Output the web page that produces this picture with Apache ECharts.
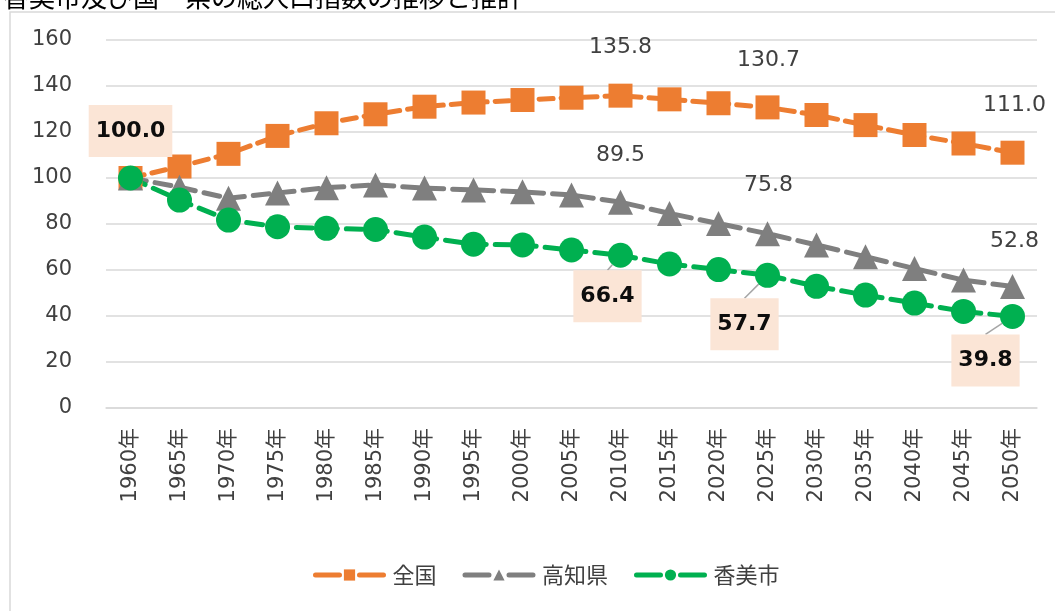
<!DOCTYPE html>
<html style="height: 100%">
<head>
    <meta charset="utf-8">
    <script src="https://cdn.jsdelivr.net/npm/echarts@6/dist/echarts.min.js"></script>
</head>
<body style="height: 100%; width: 100%; margin: 0; background-color: #fff;">
    <div id="container" style="width: 1055px; height: 611px;"></div>
    <script type="text/javascript">
        // データ
        var years = ['1960年', '1965年', '1970年', '1975年', '1980年', '1985年', '1990年', '1995年', '2000年', '2005年',
            '2010年', '2015年', '2020年', '2025年', '2030年', '2035年', '2040年', '2045年', '2050年'];
        var zenkoku = [100.0, 105.0, 110.5, 118.3, 123.8, 127.7, 131.0, 132.8, 133.9, 134.9,
            135.8, 134.2, 132.5, 130.7, 127.4, 123.0, 118.7, 115.0, 111.0];
        var kochi = [100.0, 96.0, 91.2, 93.5, 95.8, 97.0, 95.6, 94.8, 94.0, 92.6,
            89.5, 84.6, 80.2, 75.8, 70.9, 65.8, 60.6, 55.6, 52.8];
        var kami = [100.0, 90.4, 81.7, 78.8, 78.1, 77.6, 74.3, 71.2, 70.9, 68.7,
            66.4, 62.6, 60.2, 57.7, 52.9, 49.1, 45.6, 42.0, 39.8];
        var yTicks = [0, 20, 40, 60, 80, 100, 120, 140, 160];

        // ラベルを付ける点
        var zenkokuLabelIdx = [10, 13, 18];
        var kochiLabelIdx = [10, 13, 18];
        var kamiLabelIdx = [0, 10, 13, 18];

        var numFont = 'DejaVu Sans, "Noto Sans CJK JP", sans-serif';
        var jpFont = '"Noto Sans CJK JP", sans-serif';

        function buildData(values, labelIdx, boxed) {
            return values.map(function (v, i) {
                if (labelIdx.indexOf(i) < 0) {
                    return v;
                }
                var label = {
                    show: true,
                    position: 'inside',
                    formatter: function (p) { return p.value.toFixed(1); },
                    fontFamily: numFont,
                    fontSize: 22
                };
                var item = { value: v, label: label };
                if (boxed) {
                    label.fontWeight = 'bold';
                    label.color = '#0d0d0d';
                    label.backgroundColor = '#fbe5d6';
                    label.padding = [16, 7, 14, 7];
                    // 1960年のボックスは引き出し線なし
                    if (i === 0) {
                        item.labelLine = { show: false };
                    }
                } else {
                    label.color = '#404040';
                }
                return item;
            });
        }

        // ラベル位置のずらし量
        var plainShift = { 10: [0, -48], 13: [1, -47], 18: [2, -47] };
        var kochiShift = { 10: [0, -47], 13: [1, -48], 18: [2, -45] };
        var boxShift = { 0: [0, -47], 10: [-13, 41], 13: [-23, 49], 18: [-27, 44] };

        var dom = document.getElementById('container');
        var myChart = echarts.init(dom);

        var option = {
            animation: false,
            title: {
                text: '香美市及び国・県の総人口指数の推移と推計',
                left: -2,
                top: -21,
                textStyle: {
                    fontFamily: jpFont,
                    fontSize: 26,
                    fontWeight: 'normal',
                    color: '#000'
                }
            },
            graphic: [{
                type: 'rect',
                shape: { x: 10, y: 12, width: 1100, height: 700 },
                style: { fill: 'none', stroke: '#d9d9d9', lineWidth: 1.5 },
                z: -1
            }],
            color: ['#ed7d31', '#7f7f7f', '#00b050'],
            legend: {
                bottom: 20,
                left: 308,
                itemWidth: 68,
                itemHeight: 14,
                itemGap: 26,
                lineStyle: { width: 5, type: [24, 20] },
                textStyle: {
                    fontFamily: jpFont,
                    fontSize: 22,
                    color: '#404040',
                    padding: [0, 0, 0, 4]
                },
                data: ['全国', '高知県', '香美市']
            },
            grid: {
                left: 106,
                right: 18,
                top: 40,
                bottom: 203,
                containLabel: false
            },
            xAxis: {
                type: 'category',
                data: years,
                boundaryGap: true,
                axisLine: { lineStyle: { color: '#d9d9d9', width: 1.5 } },
                axisTick: { show: false },
                axisLabel: {
                    rotate: 90,
                    interval: 0,
                    margin: 20,
                    fontFamily: numFont,
                    fontSize: 21,
                    color: '#404040'
                }
            },
            yAxis: {
                type: 'value',
                min: yTicks[0],
                max: yTicks[yTicks.length - 1],
                interval: 20,
                axisLine: { show: false },
                axisTick: { show: false },
                splitLine: { lineStyle: { color: '#d9d9d9', width: 1.5 } },
                axisLabel: {
                    margin: 34,
                    fontFamily: numFont,
                    fontSize: 21,
                    color: '#404040'
                }
            },
            series: [
                {
                    name: '全国',
                    type: 'line',
                    symbol: 'rect',
                    symbolSize: 24,
                    lineStyle: { width: 5, type: [14, 8], cap: 'round' },
                    data: buildData(zenkoku, zenkokuLabelIdx, false),
                    labelLayout: function (p) {
                        var s = plainShift[p.dataIndex];
                        return s ? { dx: s[0], dy: s[1] } : {};
                    }
                },
                {
                    name: '高知県',
                    type: 'line',
                    symbol: 'triangle',
                    symbolSize: 25,
                    lineStyle: { width: 5, type: [16, 9], cap: 'round' },
                    data: buildData(kochi, kochiLabelIdx, false),
                    labelLayout: function (p) {
                        var s = kochiShift[p.dataIndex];
                        return s ? { dx: s[0], dy: s[1] } : {};
                    }
                },
                {
                    name: '香美市',
                    type: 'line',
                    symbol: 'circle',
                    symbolSize: 25,
                    lineStyle: { width: 5, type: [16, 9], cap: 'round' },
                    data: buildData(kami, kamiLabelIdx, true),
                    labelLine: {
                        show: true,
                        lineStyle: { color: '#a6a6a6', width: 1.5 }
                    },
                    labelLayout: function (p) {
                        var s = boxShift[p.dataIndex];
                        return s ? { dx: s[0], dy: s[1] } : {};
                    }
                }
            ]
        };

        myChart.setOption(option, true);
    </script>
</body>
</html>
